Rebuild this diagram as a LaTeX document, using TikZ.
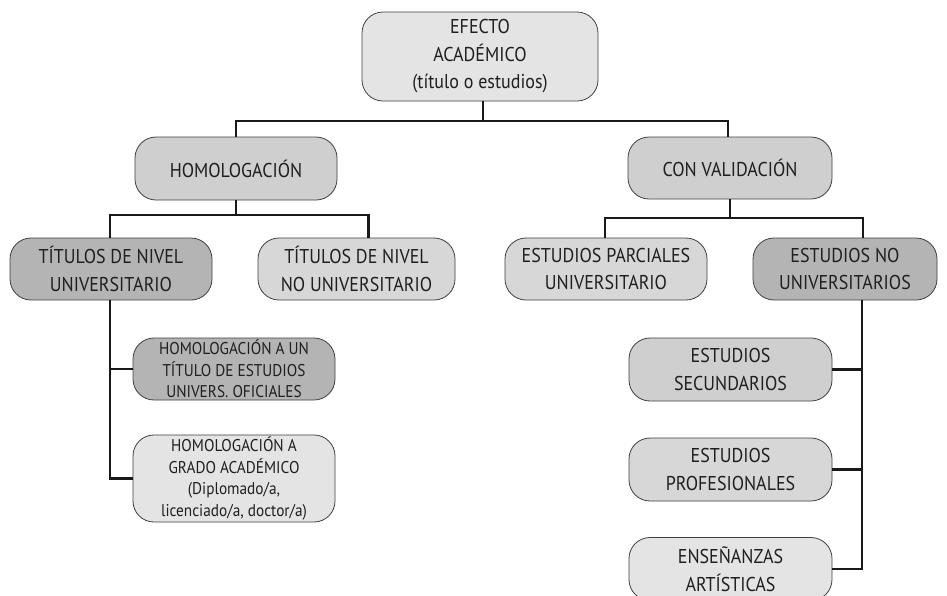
\documentclass[tikz,border=0pt]{standalone}
\usepackage{fontspec}
\setmainfont{PT Sans}[FakeStretch=0.9]
\begin{document}
\begin{tikzpicture}[x=1pt,y=-1pt,
  box/.style={draw=black!75, line width=0.8pt, rounded corners=21pt, align=center,
    text=black!88, inner sep=2pt, font=\fontsize{20}{27.5}\selectfont},
  smallbox/.style={box, font=\fontsize{17}{21.5}\selectfont},
  conn/.style={draw=black!90, line width=2.8pt}
]
\definecolor{darkg}{HTML}{B4B4B4}
\definecolor{medg}{HTML}{CFCFCF}
\definecolor{midl}{HTML}{D7D7D7}
\definecolor{lightg}{HTML}{E4E4E4}
\path[use as bounding box, clip] (0,0) rectangle (947,595);
\fill[white] (0,0) rectangle (947,595);

% nodes
\node[box, fill=lightg, minimum width=236pt, minimum height=89pt] (top) at (480,56.5)
  {EFECTO\\ACADÉMICO\\(título o estudios)};
\node[box, fill=medg, minimum width=202pt, minimum height=63pt] (homol) at (236,168.5) {HOMOLOGACIÓN};
\node[box, fill=medg, minimum width=204pt, minimum height=62pt] (conval) at (730,168) {CON VALIDACIÓN};

\node[box, fill=darkg, minimum width=202pt, minimum height=62pt] (tnu) at (111,269) {TÍTULOS DE NIVEL\\UNIVERSITARIO};
\node[box, fill=midl, minimum width=197pt, minimum height=62pt] (tnnu) at (356.5,269) {TÍTULOS DE NIVEL\\NO UNIVERSITARIO};
\node[box, fill=midl, minimum width=202pt, minimum height=62pt] (epu) at (606,269) {ESTUDIOS PARCIALES\\UNIVERSITARIO};
\node[box, fill=darkg, minimum width=184pt, minimum height=62pt] (enu) at (845,269) {ESTUDIOS NO\\UNIVERSITARIOS};

\node[smallbox, fill=darkg, minimum width=202pt, minimum height=62pt] (ha) at (234,369)
  {HOMOLOGACIÓN A UN\\TÍTULO DE ESTUDIOS\\UNIVERS. OFICIALES};
\node[smallbox, fill=lightg, minimum width=202pt, minimum height=81pt] (ba) at (234,478.5)
  {HOMOLOGACIÓN A\\GRADO ACADÉMICO\\(Diplomado/a,\\licenciado/a, doctor/a)};

\node[box, fill=medg, minimum width=203pt, minimum height=63pt] (sa) at (730.5,369.5) {ESTUDIOS\\SECUNDARIOS};
\node[box, fill=midl, minimum width=203pt, minimum height=63pt] (pa) at (730.5,469.5) {ESTUDIOS\\PROFESIONALES};
\node[box, fill=lightg, minimum width=203pt, minimum height=63pt] (ea) at (730.5,569) {ENSEÑANZAS\\ARTÍSTICAS};

% connectors
\coordinate (h0) at (483,121);
\draw[conn] (top.south -| h0) -- (h0);
\draw[conn] (homol.north) |- (h0) -| ([xshift=-2pt]conval.north);

\coordinate (h1) at (236,215);
\draw[conn] (homol.south) -- (h1);
\draw[conn] ([xshift=-1pt]tnu.north) |- (h1) -| ([xshift=12pt]tnnu.north);

\coordinate (h2) at (730,218);
\draw[conn] (conval.south) -- (h2);
\draw[conn] ([xshift=-1pt]epu.north) |- (h2) -| ([xshift=18pt]enu.north);

\coordinate (lv) at ([xshift=-1pt]tnu.south);
\draw[conn] (lv) |- (ba.west);
\draw[conn] (lv |- ha.west) -- (ha.west);

\coordinate (rv) at ([xshift=17pt]enu.south);
\draw[conn] (rv) |- (ea.east);
\draw[conn] (rv |- sa.east) -- (sa.east);
\draw[conn] (rv |- pa.east) -- (pa.east);
\end{tikzpicture}
\end{document}
